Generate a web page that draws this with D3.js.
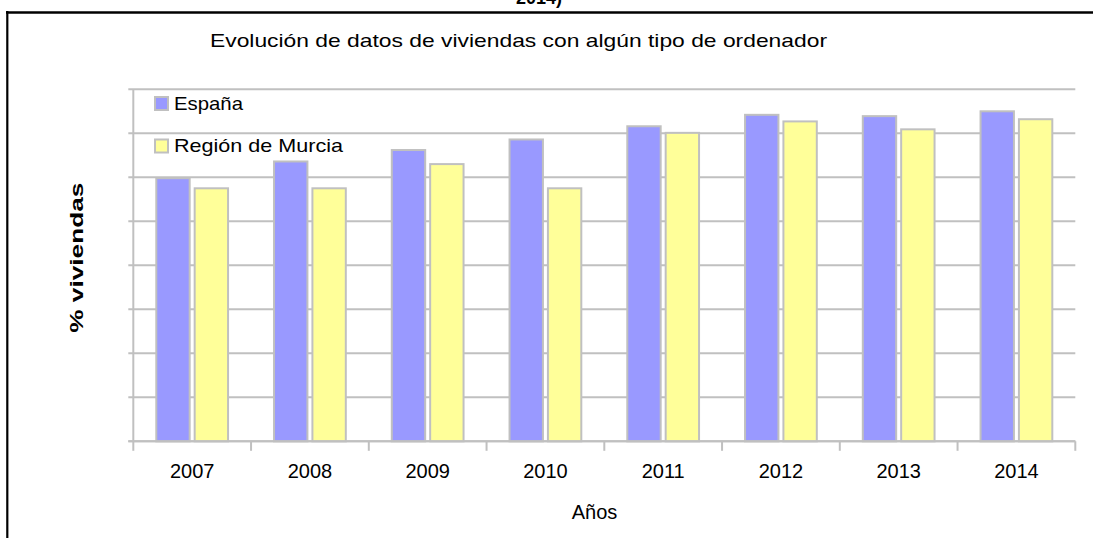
<!DOCTYPE html>
<html>
<head>
<meta charset="utf-8">
<script src="https://cdn.jsdelivr.net/npm/d3@7"></script>
<style>
  html, body { margin: 0; padding: 0; background: #fff; }
  svg { display: block; }
  text { font-family: 'Liberation Sans', Arial, sans-serif; fill: #000; }
</style>
</head>
<body>
<svg id="chart" width="1093" height="538"></svg>
<script>
(function () {
  'use strict';

  // ---- Data ----
  const years = ['2007', '2008', '2009', '2010', '2011', '2012', '2013', '2014'];
  const seriesNames = ['España', 'Región de Murcia'];
  const espana = [59.8, 63.6, 66.2, 68.6, 71.6, 74.2, 73.9, 75.0];
  const murcia = [57.5, 57.5, 63.0, 57.5, 70.1, 72.7, 70.9, 73.2];
  const yTicks = [0, 10, 20, 30, 40, 50, 60, 70, 80];

  const COLORS = { 'España': '#9999ff', 'Región de Murcia': '#ffff99' };
  const GRID = '#c0c0c0';

  const rows = years.map(function (y, i) {
    return { year: y, values: [
      { name: seriesNames[0], value: espana[i] },
      { name: seriesNames[1], value: murcia[i] }
    ] };
  });

  const svg = d3.select('#chart');

  // ---- Page frame (cut-off document) ----
  svg.append('text')
    .attr('x', 539).attr('y', 4)
    .attr('text-anchor', 'middle')
    .attr('font-size', 18).attr('font-weight', 'bold')
    .text('2014)');
  svg.append('line')
    .attr('x1', 6).attr('x2', 1093).attr('y1', 12.5).attr('y2', 12.5)
    .attr('stroke', '#000').attr('stroke-width', 2.5);
  svg.append('line')
    .attr('x1', 7.3).attr('x2', 7.3).attr('y1', 11).attr('y2', 538)
    .attr('stroke', '#000').attr('stroke-width', 2.2);

  // ---- Scales ----
  const plot = { left: 133.3, right: 1075.3, top: 89.3, bottom: 441.3 };

  const x = d3.scaleBand()
    .domain(years)
    .range([plot.left, plot.right])
    .padding(0);

  const x1 = d3.scaleBand()
    .domain(seriesNames)
    .range([23, x.bandwidth() - 23])
    .paddingInner(0.13);

  const y = d3.scaleLinear()
    .domain([0, 80])
    .range([plot.bottom, plot.top]);

  // ---- Gridlines ----
  svg.append('g')
    .selectAll('line')
    .data(yTicks)
    .enter()
    .append('line')
    .attr('x1', plot.left - 5)
    .attr('x2', plot.right)
    .attr('y1', function (d) { return y(d); })
    .attr('y2', function (d) { return y(d); })
    .attr('stroke', GRID)
    .attr('stroke-width', 2);

  // y axis line
  svg.append('line')
    .attr('x1', plot.left).attr('x2', plot.left)
    .attr('y1', plot.top).attr('y2', plot.bottom)
    .attr('stroke', GRID).attr('stroke-width', 2);

  // ---- Bars ----
  const group = svg.append('g')
    .selectAll('g')
    .data(rows)
    .enter()
    .append('g')
    .attr('transform', function (d) { return 'translate(' + x(d.year) + ',0)'; });

  group.selectAll('rect')
    .data(function (d) { return d.values; })
    .enter()
    .append('rect')
    .attr('x', function (d) { return x1(d.name); })
    .attr('width', x1.bandwidth())
    .attr('y', function (d) { return y(d.value); })
    .attr('height', function (d) { return y(0) - y(d.value); })
    .attr('fill', function (d) { return COLORS[d.name]; })
    .attr('stroke', GRID)
    .attr('stroke-width', 2);

  // ---- X axis ----
  const xAxis = d3.axisBottom(x).tickSize(0).tickPadding(0);
  const gx = svg.append('g')
    .attr('transform', 'translate(0,' + plot.bottom + ')')
    .call(xAxis);
  gx.select('.domain').remove();
  gx.selectAll('text')
    .attr('font-family', "'Liberation Sans', Arial, sans-serif")
    .attr('font-size', 20)
    .attr('fill', '#000')
    .attr('dy', 0)
    .attr('y', 36.4);

  svg.append('line')
    .attr('x1', plot.left - 5).attr('x2', plot.right)
    .attr('y1', plot.bottom).attr('y2', plot.bottom)
    .attr('stroke', GRID).attr('stroke-width', 2);

  // category boundary ticks
  const bounds = years.map(function (d) { return x(d); }).concat([plot.right]);
  svg.append('g')
    .selectAll('line')
    .data(bounds)
    .enter()
    .append('line')
    .attr('x1', function (d) { return d; })
    .attr('x2', function (d) { return d; })
    .attr('y1', plot.bottom)
    .attr('y2', plot.bottom + 9.5)
    .attr('stroke', GRID)
    .attr('stroke-width', 2);

  // ---- Titles ----
  svg.append('text')
    .attr('x', 210).attr('y', 47)
    .attr('font-size', 19)
    .attr('textLength', 617).attr('lengthAdjust', 'spacingAndGlyphs')
    .text('Evolución de datos de viviendas con algún tipo de ordenador');

  svg.append('text')
    .attr('x', 594.5).attr('y', 519.3)
    .attr('text-anchor', 'middle')
    .attr('font-size', 20)
    .text('Años');

  svg.append('text')
    .attr('transform', 'translate(83,257.7) rotate(-90)')
    .attr('text-anchor', 'middle')
    .attr('font-size', 19).attr('font-weight', 'bold')
    .attr('textLength', 150).attr('lengthAdjust', 'spacingAndGlyphs')
    .text('% viviendas');

  // ---- Legend ----
  const legendY = [97, 139.5];
  const legendW = [69, 169];
  const legend = svg.append('g')
    .selectAll('g')
    .data(seriesNames)
    .enter()
    .append('g')
    .attr('transform', function (d, i) { return 'translate(155,' + legendY[i] + ')'; });

  legend.append('rect')
    .attr('width', 13).attr('height', 13)
    .attr('fill', function (d) { return COLORS[d]; })
    .attr('stroke', GRID)
    .attr('stroke-width', 2);

  legend.append('text')
    .attr('x', 19).attr('y', 12.5)
    .attr('font-size', 19)
    .attr('textLength', function (d, i) { return legendW[i]; })
    .attr('lengthAdjust', 'spacingAndGlyphs')
    .text(function (d) { return d; });
})();
</script>
</body>
</html>
